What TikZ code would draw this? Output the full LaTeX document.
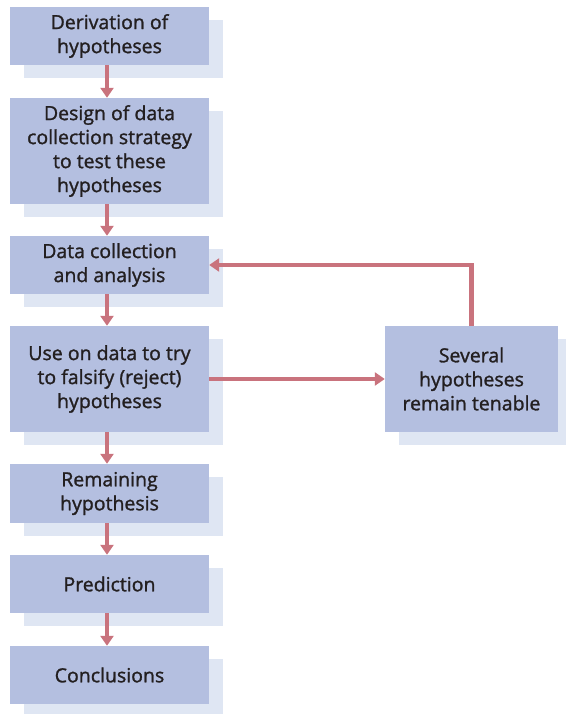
\documentclass[tikz,border=0pt]{standalone}
\usepackage{fontspec}
\setmainfont[FakeBold=1.3]{Open Sans}
\usetikzlibrary{arrows.meta,shadows}
\definecolor{boxc}{HTML}{B4BFE0}
\definecolor{shadc}{HTML}{DFE6F3}
\definecolor{arrc}{HTML}{C9737D}
\definecolor{txtc}{HTML}{231F20}
\tikzset{
  box/.style={fill=boxc, minimum width=199pt, inner sep=0pt, align=center,
    text=txtc, font=\fontsize{19.5}{24}\selectfont,
    execute at begin node={\vspace*{4pt}},
    drop shadow={shadow xshift=14pt, shadow yshift=-13pt, fill=shadc, opacity=1}},
  conn/.style={draw=arrc, line width=4.5pt, -{Triangle[width=13pt,length=10pt]}}
}
\begin{document}
\begin{tikzpicture}[x=1pt,y=-1pt]
\useasboundingbox (0,0) rectangle (565,714);
\node[box, minimum height=58.5pt] (b1) at (109.5,36) {Derivation of\\hypotheses};
\node[box, minimum height=106pt] (b2) at (109.5,151) {Design of data\\collection strategy\\to test these\\hypotheses};
\node[box, minimum height=58pt] (b3) at (109.5,265) {Data collection\\and analysis};
\node[box, minimum height=106pt] (b4) at (109.5,379) {Use on data to try\\to falsify (reject)\\hypotheses};
\node[box, minimum height=59pt] (b5) at (109.5,493.5) {Remaining\\hypothesis};
\node[box, minimum height=58pt] (b6) at (109.5,584) {Prediction};
\node[box, minimum height=58pt] (b7) at (109.5,675) {Conclusions};
\node[box, minimum width=173pt, minimum height=106pt] (r) at (471.5,379) {Several\\hypotheses\\remain tenable};
\foreach \a/\b in {b1/b2,b2/b3,b3/b4,b4/b5,b5/b6,b6/b7}
  \draw[conn] ([xshift=-2.5pt]\a.south) -- ([xshift=-2.5pt]\b.north);
\draw[conn] (b4.east) -- (r.west);
\draw[conn] (r.north) |- (b3.east);
\end{tikzpicture}
\end{document}
